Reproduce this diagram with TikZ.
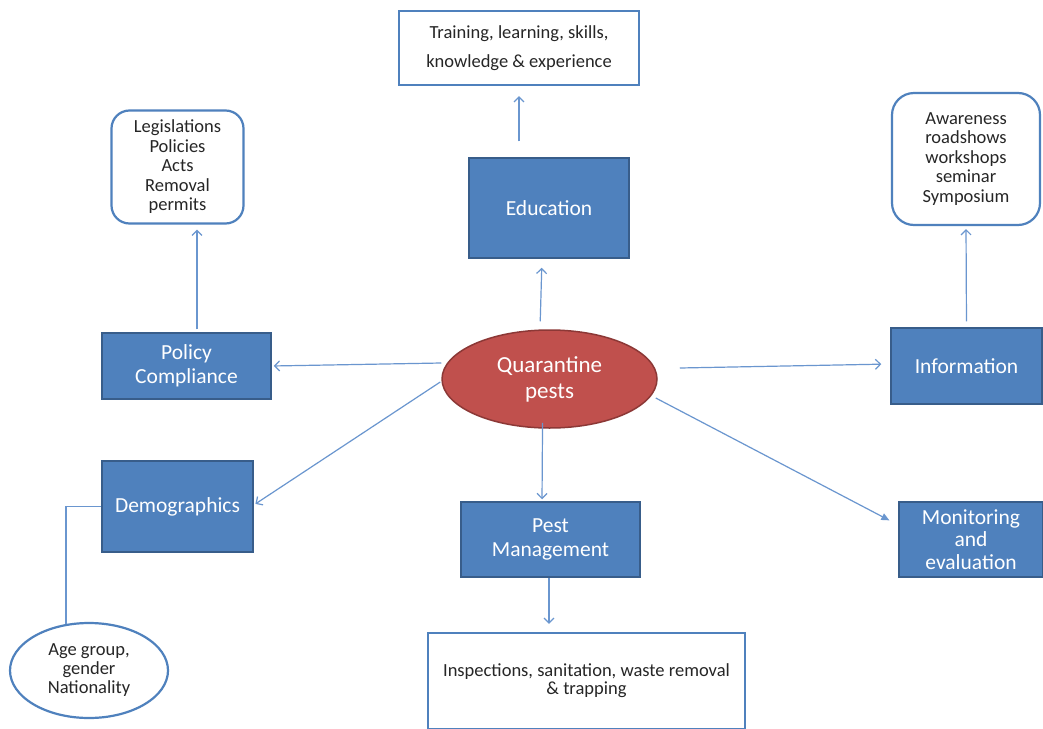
\documentclass[tikz,border=0pt]{standalone}
\usepackage{fontspec}
\setmainfont{Carlito}
\usetikzlibrary{shapes.geometric,arrows.meta}
\definecolor{boxblue}{HTML}{4F81BD}
\definecolor{boxedge}{HTML}{385D8A}
\definecolor{pestred}{HTML}{C0504D}
\definecolor{pestedge}{HTML}{8C3836}
\definecolor{linkblue}{HTML}{6A96CF}
\definecolor{txtdark}{HTML}{262626}
\tikzset{
  solidbox/.style={draw=boxedge, fill=boxblue, line width=1.5pt, text=white,
    font=\fontsize{21.5}{24}\selectfont, align=center, inner sep=0pt},
  outlinebox/.style={draw=boxblue, fill=white, line width=2.2pt, text=txtdark,
    font=\fontsize{18.5}{19.5}\selectfont, align=center, inner sep=0pt},
  link/.style={draw=linkblue, line width=1.2pt, -{Straight Barb[length=5pt,width=10pt]}},
  linkfill/.style={draw=linkblue, line width=1.2pt, -{Triangle[length=8pt,width=7pt]}},
  plainlink/.style={draw=linkblue, line width=1.2pt},
}
\begin{document}
\begin{tikzpicture}[x=1pt,y=-1pt]
\useasboundingbox[fill=white] (0,0) rectangle (1043,728);

% central node
\node[ellipse, draw=pestedge, fill=pestred, line width=1.5pt, text=white,
  minimum width=215pt, minimum height=98pt, inner sep=0pt, align=center,
  font=\fontsize{23}{26}\selectfont] (qp) at (549.5,379) {Quarantine\\pests};

% solid boxes
\node[solidbox, minimum width=160pt, minimum height=100pt] (edu) at (549,208) {Education};
\node[solidbox, minimum width=169pt, minimum height=66pt] (pol) at (186.5,366) {Policy\\Compliance};
\node[solidbox, minimum width=151pt, minimum height=76pt] (info) at (966.5,366) {Information};
\node[solidbox, minimum width=144pt, minimum height=75pt, font=\fontsize{21.5}{22.5}\selectfont] (mon) at (971,539.5) {Monitoring\\and\\evaluation};
\node[solidbox, minimum width=151pt, minimum height=91pt] (demo) at (177.5,506.5) {Demographics};
\node[solidbox, minimum width=179pt, minimum height=75pt] (pest) at (550.5,539.5) {Pest\\Management};

% outline boxes
\node[outlinebox, minimum width=240pt, minimum height=74pt, font=\fontsize{18.5}{29}\selectfont] (train) at (519,48) {Training, learning, skills,\\knowledge \& experience};
\node[outlinebox, rounded corners=18pt, minimum width=132pt, minimum height=113pt] (leg) at (177.5,167) {Legislations\\Policies\\Acts\\Removal\\permits};
\node[outlinebox, rounded corners=22pt, minimum width=148pt, minimum height=132pt] (aware) at (966,159) {Awareness\\roadshows\\workshops\\seminar\\Symposium};
\node[outlinebox, minimum width=317pt, minimum height=96pt, font=\fontsize{18.5}{18}\selectfont] (insp) at (586.5,681) {Inspections, sanitation, waste removal\\\& trapping};
\node[outlinebox, ellipse, minimum width=158pt, minimum height=95pt, font=\fontsize{18.5}{19}\selectfont] (age) at (89,670.5) {Age group,\\gender\\Nationality};

% connectors
\draw[link, shorten <=16pt, shorten >=10pt] ([xshift=-30pt]edu.north) -- (train.south);
\draw[link, shorten <=8pt, shorten >=9pt] ([xshift=-9.5pt]qp.north) -- ([xshift=-7pt]edu.south);
\draw[link, shorten >=2pt] ([yshift=16pt]qp.west) -- (pol.east);
\draw[link, shorten >=9pt] ([xshift=22pt,yshift=11pt]qp.east) -- ([yshift=2pt]info.west);
\draw[linkfill, shorten >=10pt] ([xshift=-2pt,yshift=-19pt]qp.east) -- ([yshift=14.5pt]mon.west);
\draw[link, shorten >=2pt] ([xshift=-1pt,yshift=-3pt]qp.west) -- ([yshift=1.5pt]demo.east);
\draw[link, shorten <=-6pt, shorten >=2pt] ([xshift=-7pt]qp.south) -- ([xshift=-8.5pt]pest.north);
\draw[link, shorten <=3pt, shorten >=5pt] ([xshift=10.5pt]pol.north) -- ([xshift=19.5pt]leg.south);
\draw[link, shorten <=6pt, shorten >=3pt] (info.north) -- (aware.south);
\draw[link, shorten >=8pt] ([xshift=-1.5pt]pest.south) -- ([xshift=-37.5pt]insp.north);
\draw[plainlink] (demo.west) -| ([xshift=-23pt,yshift=-2pt]age.north);
\end{tikzpicture}
\end{document}
